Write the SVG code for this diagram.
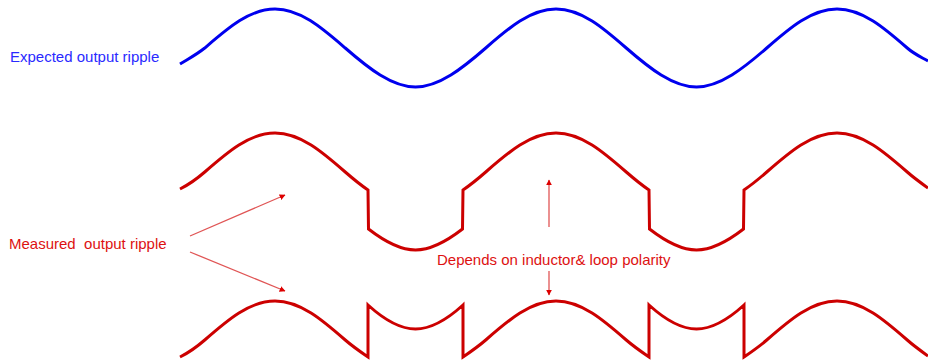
<svg xmlns="http://www.w3.org/2000/svg" width="928" height="362" viewBox="0 0 928 362">
<style>
.wave{fill:none;stroke-width:3;stroke-linejoin:miter}
.blue{stroke:#0000ee}
.red{stroke:#cc0000}
.lbl{font-family:"Liberation Sans",Arial,sans-serif;font-size:15px;white-space:pre}
.arr{stroke:#e05555;stroke-width:1.3;fill:none}
</style>
<defs>
<marker id="ah" viewBox="0 0 10 10" refX="9" refY="5" markerWidth="6" markerHeight="6" markerUnits="userSpaceOnUse" orient="auto">
<path d="M0,0 L10,5 L0,10 Z" fill="#dd0000"/>
</marker>
</defs>
<rect width="928" height="362" fill="#ffffff"/>
<g id="expected">
<path class="wave blue" d="M180,64 C188,59 196,55 204.75,48 C228,28 249.55,9 275,9 C300.45,9 322,28 345.25,48 C368.15,68 392,87 415.5,87 C439,87 462.85,68 485.75,48 C508.65,28 530.55,9 556,9 C581.45,9 603.35,28 626.25,48 C649.15,68 673,87 696.5,87 C720,87 743.85,68 766.75,48 C789.65,28 811.55,9 837,9 C862.45,9 884.35,28 907.25,48 C914,54 921,57 928,61"/>
<text class="lbl" x="10" y="62" fill="#2a2aff">Expected output ripple</text>
</g>
<g id="measured1">
<path class="wave red" d="M180,189 C188,185 196,179.6 204.75,172 C227.65,152 249.55,133 275,133 C300.45,133 322.35,152 345.25,172 C352.83,178.6 360.4,184.8 368,190 L368.5,229 C384,241 399.7,250 415.5,250 C431.3,250 447,241 462.5,229 L463,190 C470.6,184.8 478.2,178.6 485.75,172 C508.65,152 530.55,133 556,133 C581.45,133 603.35,152 626.25,172 C633.83,178.6 641.4,184.8 649,190 L649.5,229 C665,241 680.7,250 696.5,250 C712.3,250 728,241 743.5,229 L744,190 C751.6,184.8 759.2,178.6 766.75,172 C789.65,152 811.55,133 837,133 C862.45,133 884.35,152 907.25,172 C914,178 921,183 928,188"/>
</g>
<g id="measured2">
<path class="wave red" d="M180,357 C188,353 196,347.6 204.75,340 C227.65,320 249.55,301 275,301 C300.45,301 322.35,320 345.25,340 C352.83,346.6 360.4,351.8 368,357 L368,305 C383.8,319.4 399.7,329 415.5,329 C431.3,329 447.2,319.4 463,305 L463,357 C470.6,351.8 478.2,346.6 485.75,340 C508.65,320 530.55,301 556,301 C581.45,301 603.35,320 626.25,340 C633.83,346.6 641.4,351.8 649,357 L649,305 C664.8,319.4 680.7,329 696.5,329 C712.3,329 728.2,319.4 744,305 L744,357 C751.6,351.8 759.2,346.6 766.75,340 C789.65,320 811.55,301 837,301 C862.45,301 884.35,320 907.25,340 C914,346 921,351 928,356"/>
</g>
<g id="label-measured">
<text class="lbl" x="9" y="249" fill="#dd1111" xml:space="preserve">Measured  output ripple</text>
</g>
<g id="label-depends">
<text class="lbl" x="437" y="265" fill="#dd1111">Depends on inductor&amp; loop polarity</text>
</g>
<g id="connectors">
<line class="arr" x1="190" y1="236" x2="285" y2="195" marker-end="url(#ah)"/>
<line class="arr" x1="190" y1="252" x2="285" y2="291" marker-end="url(#ah)"/>
<line class="arr" x1="549" y1="227" x2="549" y2="180" marker-end="url(#ah)"/>
<line class="arr" x1="549" y1="271" x2="549" y2="295" marker-end="url(#ah)"/>
</g>
</svg>
